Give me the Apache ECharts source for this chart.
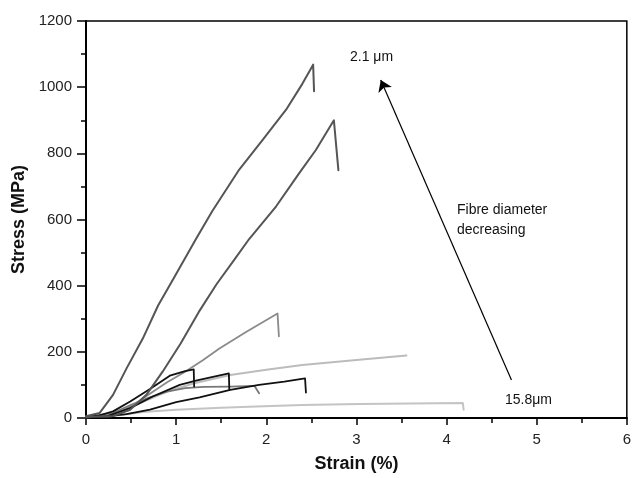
<!DOCTYPE html>
<html><head><meta charset="utf-8">
<script src="https://cdn.jsdelivr.net/npm/echarts@6/dist/echarts.min.js"></script>
<style>html,body{margin:0;padding:0;background:#fff}#c{width:634px;height:478px}</style>
</head><body><div id="c"></div>
<script>
// Stress-strain curves, [strain %, stress MPa]
const curveA = [[0,5],[0.15,15],[0.3,70],[0.45,150],[0.63,240],[0.8,340],[0.97,421],[1.22,541],[1.40,625],[1.70,751],[1.96,841],[2.22,932],[2.40,1010],[2.52,1068],[2.53,988]];
const curveB = [[0,3],[0.3,6],[0.49,25],[0.67,70],[0.85,140],[1.05,225],[1.25,320],[1.45,405],[1.65,480],[1.81,541],[2.11,640],[2.36,738],[2.55,810],[2.75,900],[2.80,749]];
const curveC = [[0,3],[0.3,10],[0.5,35],[0.7,72],[0.9,108],[1.1,140],[1.3,175],[1.48,210],[1.78,261],[2.125,316],[2.14,247]];
const curveD = [[0,3],[0.3,12],[0.6,45],[0.9,80],[1.2,105],[1.6,130],[2.0,146],[2.4,160],[3.0,175],[3.555,189]];
const curveE = [[0,2],[0.3,6],[0.63,18],[1.0,25],[1.5,31],[1.89,35],[2.4,39],[3.03,42],[3.6,44],[4.18,45],[4.19,25]];
const curveF = [[0,3],[0.15,8],[0.3,20],[0.49,50],[0.71,88],[0.93,128],[1.1,142],[1.195,147],[1.2,95]];
const curveG = [[0,2],[0.23,5],[0.49,30],[0.74,65],[1.04,100],[1.22,113],[1.37,122],[1.585,135],[1.59,85]];
const curveH = [[0,3],[0.3,15],[0.5,40],[0.7,62],[0.9,80],[1.1,90],[1.3,94],[1.6,95],[1.87,97],[1.92,75]];
const curveI = [[0,2],[0.2,4],[0.45,12],[0.71,25],[1.0,48],[1.26,62],[1.6,85],[1.92,100],[2.2,110],[2.43,120],[2.44,77]];
const arrowFrom = [4.72, 115];
const arrowTo = [3.27, 1022];

const ch = echarts.init(document.getElementById('c'));
function ser(data, color, w){
  return {type:'line', data:data, showSymbol:false, symbol:'none', smooth:false,
    lineStyle:{color:color, width:w, join:'round', cap:'round'}, z:2, animation:false};
}
const series = [
  ser(curveE,'#c4c4c4',2),
  ser(curveD,'#bcbcbc',2),
  ser(curveH,'#777777',1.8),
  ser(curveC,'#8a8a8a',1.8),
  ser(curveI,'#111111',1.8),
  ser(curveG,'#111111',1.8),
  ser(curveF,'#111111',1.8),
  ser(curveB,'#555555',2),
  ser(curveA,'#555555',2),
  {type:'line', data:[], animation:false,
   markLine:{silent:true, symbol:['none','arrow'], symbolSize:11,
     lineStyle:{color:'#000', width:1.2, type:'solid'}, label:{show:false},
     data:[[{coord:arrowFrom},{coord:arrowTo}]]}}
];
const lbl = {fontFamily:'Liberation Sans', fontSize:15, color:'#222', margin:14, formatter:function(v){return String(v);}};
const nameStyle = {fontFamily:'Liberation Sans', fontWeight:'bold', fontSize:18, color:'#111'};
ch.setOption({
  animation:false,
  grid:{left:86, right:5, top:21, bottom:58, show:true, borderColor:'#000', borderWidth:1.5},
  xAxis:{type:'value', min:0, max:6, interval:1,
    name:'Strain (%)', nameLocation:'middle', nameGap:37,
    nameTextStyle:nameStyle,
    axisLine:{lineStyle:{color:'#000', width:2}},
    axisTick:{show:true, inside:false, length:7, lineStyle:{color:'#000', width:1.5}},
    minorTick:{show:true, splitNumber:2, length:5, lineStyle:{color:'#000', width:1.5}},
    splitLine:{show:false},
    axisLabel:lbl},
  yAxis:{type:'value', min:0, max:1200, interval:200,
    name:'Stress (MPa)', nameLocation:'middle', nameGap:52,
    nameTextStyle:nameStyle,
    axisLine:{lineStyle:{color:'#000', width:2}},
    axisTick:{show:true, inside:false, length:9, lineStyle:{color:'#000', width:1.5}},
    minorTick:{show:true, splitNumber:2, length:5, lineStyle:{color:'#000', width:1.5}},
    splitLine:{show:false},
    axisLabel:lbl},
  series:series,
  graphic:[
    {type:'text', left:350, top:50, style:{text:'2.1 μm', font:'14px "Liberation Sans"', fill:'#111'}},
    {type:'text', left:457, top:200, style:{text:'Fibre diameter\ndecreasing', font:'14px "Liberation Sans"', fill:'#111', lineHeight:20}},
    {type:'text', left:505, top:393, style:{text:'15.8μm', font:'14px "Liberation Sans"', fill:'#111'}}
  ]
});
</script></body></html>
